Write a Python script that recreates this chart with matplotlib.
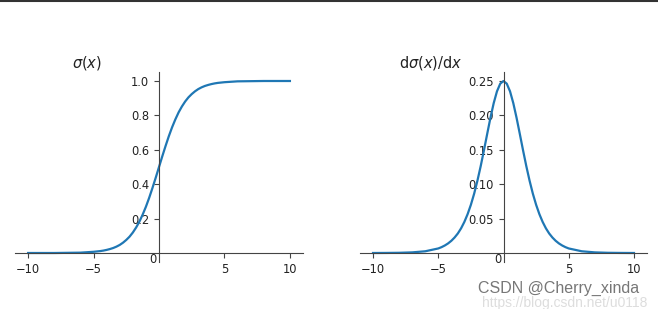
import matplotlib
matplotlib.use("Agg")
import matplotlib.pyplot as plt
from matplotlib.transforms import ScaledTranslation

# ---- data ----
x_vals = [-10, -9, -8, -7, -6,
          -5, -4.75, -4.5, -4.25, -4, -3.75, -3.5, -3.25, -3, -2.75, -2.5, -2.25,
          -2, -1.75, -1.5, -1.25, -1, -0.75, -0.5, -0.25, 0,
          0.25, 0.5, 0.75, 1, 1.25, 1.5, 1.75, 2, 2.25, 2.5, 2.75, 3, 3.25,
          3.5, 3.75, 4, 4.25, 4.5, 4.75, 5,
          6, 7, 8, 9, 10]
sigma_vals = [0.000, 0.000, 0.000, 0.001, 0.002,
              0.007, 0.009, 0.011, 0.014, 0.018, 0.023, 0.029, 0.037, 0.047, 0.060, 0.076, 0.095,
              0.119, 0.148, 0.182, 0.223, 0.269, 0.321, 0.378, 0.438, 0.500,
              0.562, 0.622, 0.679, 0.731, 0.777, 0.818, 0.852, 0.881, 0.905, 0.924, 0.940, 0.953, 0.963,
              0.971, 0.977, 0.982, 0.986, 0.989, 0.991, 0.993,
              0.998, 0.999, 1.000, 1.000, 1.000]
dsigma_vals = [0.0000, 0.0001, 0.0003, 0.0009, 0.0025,
               0.0066, 0.0085, 0.0109, 0.0139, 0.0177, 0.0225, 0.0284, 0.0359, 0.0452, 0.0565, 0.0701, 0.0862,
               0.1050, 0.1261, 0.1491, 0.1731, 0.1966, 0.2179, 0.2350, 0.2461, 0.2500,
               0.2461, 0.2350, 0.2179, 0.1966, 0.1731, 0.1491, 0.1261, 0.1050, 0.0862, 0.0701, 0.0565, 0.0452, 0.0359,
               0.0284, 0.0225, 0.0177, 0.0139, 0.0109, 0.0085, 0.0066,
               0.0025, 0.0009, 0.0003, 0.0001, 0.0000]

x_ticks = [-10, -5, 5, 10]
x_tick_labels = ["\u221210", "\u22125", "5", "10"]
y_ticks_left = [0.2, 0.4, 0.6, 0.8, 1.0]
y_tick_labels_left = ["0.2", "0.4", "0.6", "0.8", "1.0"]
y_ticks_right = [0.05, 0.10, 0.15, 0.20, 0.25]
y_tick_labels_right = ["0.05", "0.10", "0.15", "0.20", "0.25"]
titles = [r"$\sigma(x)$", r"$\mathrm{d}\sigma(x)/\mathrm{d}x$"]

LINE = "#1f77b4"
TXT = "#222222"
SP = "#444444"
FS = 8.3

fig = plt.figure(figsize=(6.58, 3.09), dpi=100)
bottom, top = 0.1534, 0.7657
ax1 = fig.add_axes([0.0228, bottom, 0.4377, top - bottom])
ax2 = fig.add_axes([0.5471, bottom, 0.4362, top - bottom])

specs = [(ax1, sigma_vals, y_ticks_left, y_tick_labels_left, titles[0], 0.132),
         (ax2, dsigma_vals, y_ticks_right, y_tick_labels_right, titles[1], 0.655)]

for ax, yv, yt, ytl, title, tx in specs:
    ax.plot(x_vals, yv, color=LINE, lw=1.6)
    ax.set_xlim(-11, 11)
    ymax = max(yv)
    ax.set_ylim(-0.05 * ymax, 1.05 * ymax)
    ax.spines["right"].set_visible(False)
    ax.spines["top"].set_visible(False)
    ax.spines["left"].set_position(("data", 0))
    ax.spines["bottom"].set_position(("data", 0))
    for s in ("left", "bottom"):
        ax.spines[s].set_color(SP)
        ax.spines[s].set_linewidth(0.8)
    ax.set_xticks(x_ticks)
    ax.set_xticklabels(x_tick_labels)
    ax.set_yticks(yt)
    ax.set_yticklabels(ytl)
    ax.tick_params(labelsize=FS, colors=SP, labelcolor=TXT, width=0.8, length=3.5)
    off = ScaledTranslation(-6 / 100, 0, fig.dpi_scale_trans)
    ax.text(0, 0, "0", transform=ax.transData + off, ha="center", va="top",
            fontsize=FS, color=TXT)
    ax.patch.set_visible(False)
    fig.text(tx, 0.796, title, fontsize=10.5, color=TXT, ha="center", va="center")

# top border line
fig.add_artist(plt.Line2D([0, 1], [0.998, 0.998], transform=fig.transFigure,
                          color="#333333", lw=1.5))

# watermark
fig.text(0.726, 0.066, "CSDN @Cherry_xinda", fontsize=11.5, color="#777777",
         family="Liberation Sans", ha="left", va="center")
fig.text(0.733, 0.018, "https://blog.csdn.net/u0118", fontsize=10, color="#dddddd",
         family="Liberation Sans", ha="left", va="center")

fig.savefig("out.png", dpi=100)
